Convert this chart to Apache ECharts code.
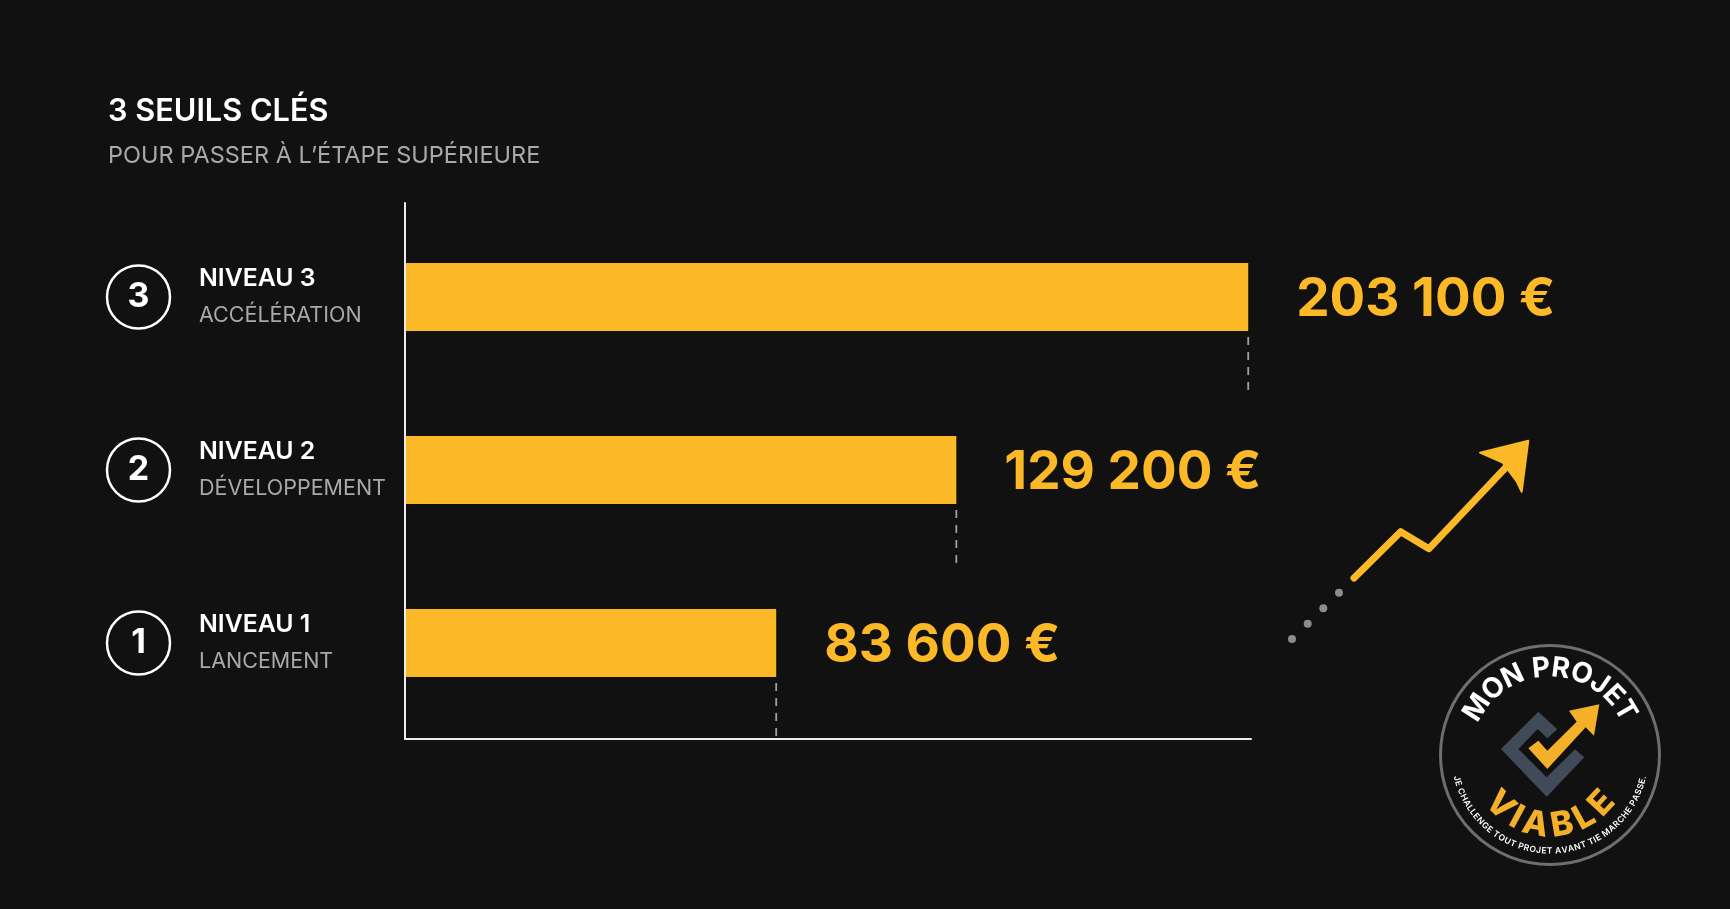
<!DOCTYPE html>
<html lang="fr">
<head>
<meta charset="utf-8">
<title>3 seuils clés</title>
<script src="https://cdn.jsdelivr.net/npm/echarts@6/dist/echarts.min.js"></script>
<style>
html,body{margin:0;padding:0;background:#111111;}
#chart{width:1730px;height:909px;}
</style>
</head>
<body>
<div id="chart"></div>
<script>
const categories = ['NIVEAU 1', 'NIVEAU 2', 'NIVEAU 3'];
const subLabels = ['LANCEMENT', 'DÉVELOPPEMENT', 'ACCÉLÉRATION'];
const badgeNumbers = ['1', '2', '3'];
const values = [83600, 129200, 203100];
const valueLabels = ['83 600 €', '129 200 €', '203 100 €'];
const axisStart = -10380;
const axisEnd = 203803;

const YELLOW = '#fbb827';
const FONT = 'Inter, "Noto Sans", sans-serif';
const chart = echarts.init(document.getElementById('chart'));

const measure = document.createElement('canvas').getContext('2d');
function arcText(text, opt) {
  measure.font = opt.font;
  const widths = [...text].map(c => measure.measureText(c).width + opt.spacing);
  const total = widths.reduce((a, b) => a + b, 0);
  let run = -total / 2;
  return [...text].map((c, i) => {
    const theta = (run + widths[i] / 2) / opt.r;
    run += widths[i];
    const s = opt.bottom ? 1 : -1;
    return {
      type: 'text', z: 10,
      x: opt.cx + opt.r * Math.sin(theta),
      y: opt.cy + s * opt.r * Math.cos(theta),
      rotation: opt.bottom ? theta : -theta,
      style: { text: c, font: opt.font, fill: opt.fill, align: 'center', verticalAlign: 'middle' }
    };
  });
}
const z3 = pts => pts.map(p => [1400 + p[0] / 3, 620 + p[1] / 3]);

const cx = 1550, cy = 755;
const decorations = [
  { type: 'polyline', z: 5, shape: { points: [[1354, 578], [1400.7, 531.7], [1429, 548.7], [1510, 463]] },
    style: { stroke: YELLOW, lineWidth: 7, fill: null, lineJoin: 'round', lineCap: 'round' } },
  { type: 'polygon', z: 5, shape: { points: [[1528.3, 440.7], [1480, 452.7], [1502.7, 462.7], [1517, 482], [1521.7, 491.7]] },
    style: { fill: YELLOW, stroke: YELLOW, lineWidth: 2, lineJoin: 'round' } },
  ...[[1339, 592.7], [1323.3, 608.3], [1307.7, 623.7], [1292, 639]].map(p => ({
    type: 'circle', z: 5, shape: { cx: p[0], cy: p[1], r: 4 }, style: { fill: '#8c8c8c' } })),
  { type: 'circle', z: 5, shape: { cx, cy, r: 109.5 }, style: { fill: '#111111', stroke: '#6e6e6e', lineWidth: 3 } },
  { type: 'polygon', z: 6, shape: { points: z3([[415,275],[472,328],[442,355],[413,327],[355,387],[440,472],[525,388],[553,412],[440,530],[303,387]]) },
    style: { fill: '#414a58' } },
  { type: 'polygon', z: 7, shape: { points: z3([[385,385],[415,362],[442,392],[530,305],[507,272],[598,253],[582,347],[557,322],[442,447]]) },
    style: { fill: '#f5b02a' } },
  ...arcText('MON PROJET', { cx, cy, r: 87, font: '700 28px ' + FONT, fill: '#ffffff', spacing: 1.5 }),
  ...arcText('VIABLE', { cx, cy, r: 71, bottom: true, font: '800 34px ' + FONT, fill: '#f5b02a', spacing: 2.5 }),
  ...arcText('JE CHALLENGE TOUT PROJET AVANT TIE MARCHE PASSE.', { cx, cy, r: 96, bottom: true, font: '600 8.5px ' + FONT, fill: '#ffffff', spacing: 0.3 })
];

chart.setOption({
  backgroundColor: '#111111',
  animation: false,
  title: [
    { text: '3 SEUILS CLÉS', left: 103, top: 91,
      textStyle: { color: '#ffffff', fontFamily: FONT, fontSize: 30.7, fontWeight: 600 } },
    { text: 'POUR PASSER À L’ÉTAPE SUPÉRIEURE', left: 103, top: 139,
      textStyle: { color: '#a9a9a9', fontFamily: FONT, fontSize: 23.5, fontWeight: 400 } }
  ],
  grid: [
    { left: 405, top: 203, width: 846, height: 536 },
    { left: 405, top: 210.5, width: 846, height: 519 }
  ],
  xAxis: [
    { gridIndex: 0, type: 'value', min: 0, max: 1, axisLine: { show: true, lineStyle: { color: '#ececec', width: 2 } },
      axisTick: { show: false }, axisLabel: { show: false }, splitLine: { show: false } },
    { gridIndex: 1, type: 'value', min: axisStart, max: axisEnd, show: false, splitLine: { show: false } }
  ],
  yAxis: [
    { gridIndex: 0, type: 'category', data: [''], z: 4, axisLine: { show: true, onZero: false, lineStyle: { color: '#ececec', width: 2 } },
      axisTick: { show: false }, axisLabel: { show: false } },
    { gridIndex: 1, type: 'category', data: categories, axisLine: { show: false }, axisTick: { show: false },
      axisLabel: {
        interval: 0, align: 'left', margin: 206,
        formatter: (v, i) => '{a|' + v + '}\n{b|' + subLabels[i] + '}',
        rich: {
          a: { color: '#ffffff', fontFamily: FONT, fontSize: 24.8, fontWeight: 600, lineHeight: 37, align: 'left' },
          b: { color: '#a9a9a9', fontFamily: FONT, fontSize: 21.5, fontWeight: 400, lineHeight: 37, align: 'left' }
        }
      } },
    { gridIndex: 1, type: 'category', data: badgeNumbers, position: 'left', axisLine: { show: false }, axisTick: { show: false },
      axisLabel: {
        interval: 0, margin: 235,
        formatter: v => '{c|' + v + '}',
        rich: {
          c: { color: '#ffffff', fontFamily: FONT, fontSize: 34, fontWeight: 700, width: 63, height: 63, lineHeight: 63,
               align: 'center', verticalAlign: 'middle', borderColor: '#ffffff', borderWidth: 2.5, borderRadius: 33 }
        }
      } }
  ],
  series: [
    { type: 'bar', name: 'axisLead', xAxisIndex: 1, yAxisIndex: 1, barWidth: 68, barGap: '-100%', silent: true,
      data: values.map(() => axisStart), itemStyle: { color: YELLOW }, label: { show: false } },
    { type: 'bar', name: 'Seuil', xAxisIndex: 1, yAxisIndex: 1, barWidth: 68, barGap: '-100%',
      data: values, itemStyle: { color: YELLOW },
      label: { show: true, position: 'right', distance: 48, offset: [0, 3], color: YELLOW, fontFamily: FONT, fontSize: 53, fontWeight: 700,
        formatter: p => valueLabels[p.dataIndex] } },
    { type: 'custom', name: 'repères', xAxisIndex: 1, yAxisIndex: 1, z: 3, silent: true,
      data: values.map((v, i) => [v, i]),
      encode: { x: 0, y: 1 },
      renderItem: (params, api) => {
        const p = api.coord([api.value(0), api.value(1)]);
        return { type: 'line', shape: { x1: p[0], y1: p[1] + 40, x2: p[0], y2: p[1] + 95 },
          style: { stroke: '#a0a0a0', lineWidth: 1.8, lineDash: [8, 7] } };
      } }
  ],
  graphic: decorations
});
</script>
</body>
</html>
